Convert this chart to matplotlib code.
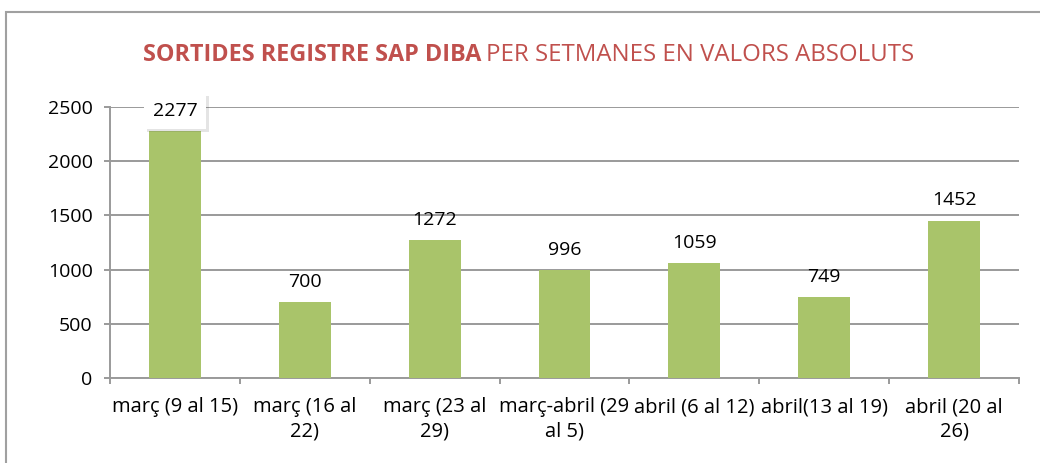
import matplotlib.pyplot as plt
from matplotlib.patches import Rectangle
import matplotlib.patheffects as pe
import numpy as np

categories = ['març (9 al 15)', 'març (16 al\n22)', 'març (23 al\n29)', 'març-abril (29\nal 5)',
              'abril (6 al 12)', 'abril(13 al 19)', 'abril (20 al\n26)']
values = [2277, 700, 1272, 996, 1059, 749, 1452]
yticks = [0, 500, 1000, 1500, 2000, 2500]

plt.rcParams['font.family'] = ['Open Sans', 'DejaVu Sans']
grid_c = '#9a9a9a'
bar_c = '#a9c46a'
red = '#c0504d'
fs = 14.5

fig = plt.figure(figsize=(10.4, 4.63), dpi=100)
fig.patches.append(Rectangle((6 / 1040, -0.1), 1.2, 1.1 - 12 / 463, transform=fig.transFigure,
                             fill=False, edgecolor='#a0a0a0', linewidth=1.5))
ax = fig.add_axes([110 / 1040, 1 - 378 / 463, (1019 - 110) / 1040, (378 - 107) / 463])

x = np.arange(len(values))
ax.bar(x, values, width=0.4, color=bar_c, zorder=3)
ax.set_xlim(-0.5, len(values) - 0.5)
ax.set_ylim(0, 2500)
ax.set_yticks(yticks)
ax.yaxis.grid(True, color=grid_c, linewidth=1.4, zorder=0)
ax.set_xticks(x)
ax.set_xticklabels(categories, fontsize=fs, linespacing=1.3)
ax.set_xticks(np.arange(len(values) + 1) - 0.5, minor=True)
ax.tick_params(axis='x', which='major', length=0, pad=14)
ax.tick_params(axis='x', which='minor', length=4.5, color=grid_c, width=1.4)
ax.tick_params(axis='y', length=4.5, color=grid_c, width=1.4, labelsize=14, pad=8)
for s in ['top', 'right']:
    ax.spines[s].set_visible(False)
for s in ['left', 'bottom']:
    ax.spines[s].set_color(grid_c)
    ax.spines[s].set_linewidth(1.4)

for i, v in enumerate(values):
    t = ax.annotate(str(v), (i, v), xytext=(0, 8), textcoords='offset points',
                    ha='center', va='bottom', fontsize=14, zorder=5)
    if i == 0:
        t.set_bbox(dict(facecolor='white', edgecolor='none', boxstyle='square,pad=0.45'))
        t.get_bbox_patch().set_path_effects([pe.SimplePatchShadow(offset=(2, -2), alpha=0.15), pe.Normal()])

fig.text(481 / 1040, 1 - 55 / 463, 'SORTIDES REGISTRE SAP DIBA', color=red, fontsize=16.8,
         fontweight='bold', ha='right', va='center')
fig.text(486 / 1040, 1 - 55 / 463, 'PER SETMANES EN VALORS ABSOLUTS', color=red, fontsize=17.3,
         ha='left', va='center')

fig.savefig('out.png', dpi=100)
